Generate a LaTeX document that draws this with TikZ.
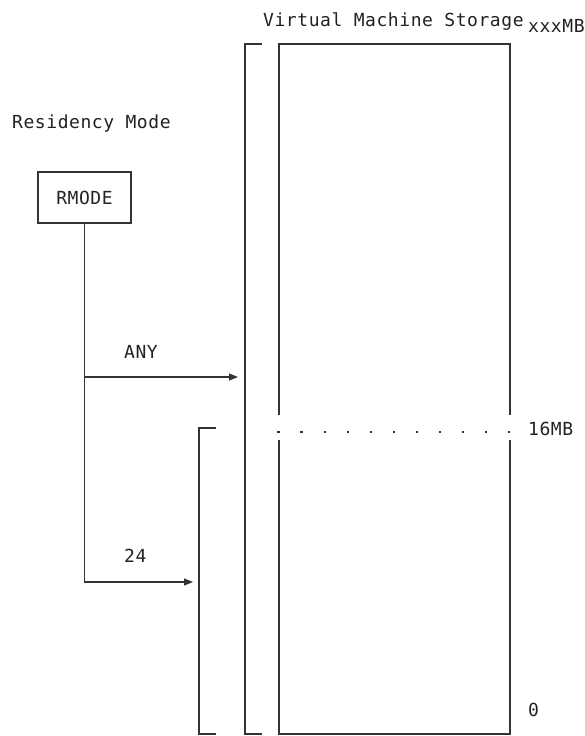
\documentclass[tikz,border=0pt]{standalone}
\usepackage{fontspec}
\newfontfamily\monofnt[LetterSpace=3.1]{DejaVu Sans Mono}
\usetikzlibrary{arrows.meta}
\definecolor{ink}{HTML}{333333}
\definecolor{txt}{HTML}{222222}
\tikzset{
  line/.style={draw=ink, line width=1.1pt},
  arr/.style={line, -{Triangle[length=9pt,width=7pt]}},
  lbl/.style={inner sep=0pt, anchor=base west, text=txt, font=\monofnt\fontsize{18}{18}\selectfont},
  boxnode/.style={draw=ink, line width=1.1pt, minimum width=93pt, minimum height=51pt, inner sep=0pt, text=txt, font=\monofnt\fontsize{18}{18}\selectfont}
}
\begin{document}
\begin{tikzpicture}[x=1pt,y=-1pt]
\useasboundingbox (0,0) rectangle (585,736);
% labels
\node[lbl] (vms) at (263,27) {Virtual Machine Storage};
\node[lbl] (xxx) at (528,32) {xxxMB};
\node[lbl] (res) at (12,128) {Residency Mode};
\node[lbl] (any) at (124,358) {ANY};
\node[lbl] (l24) at (124,562) {24};
\node[lbl] (l16) at (528,435) {16MB};
\node[lbl] (l0) at (528,716) {0};
% RMODE box
\node[boxnode] (rmode) at (84.5,197.5) {RMODE};
% storage rectangle (with gap at 16MB line)
\draw[line] (279,415) -- (279,44) -- (510,44) -- (510,415);
\draw[line] (279,440) -- (279,734) -- (510,734) -- (510,440);
\foreach \i in {0,...,10} {
  \fill[ink] ({278.5+23.05*\i-1.1},{432-1.1}) rectangle ++(2.2,2.2);
}
% brackets
\draw[line] (262,44) -- (245,44) -- (245,734) -- (262,734);
\draw[line] (216,428) -- (199,428) -- (199,734) -- (216,734);
% connectors
\coordinate (jany) at (84.5,377);
\coordinate (tany) at (238,377);
\coordinate (t24) at (193,582);
\draw[arr] (rmode.south) |- (t24);
\draw[arr] (jany) -- (tany);
\end{tikzpicture}
\end{document}
